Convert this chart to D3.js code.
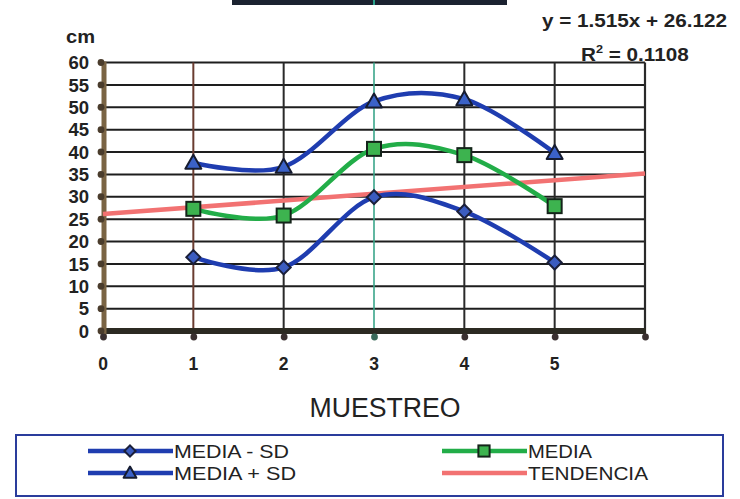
<!DOCTYPE html>
<html>
<head>
<meta charset="utf-8">
<script src="https://cdn.jsdelivr.net/npm/d3@7/dist/d3.min.js"></script>
<style>
  html, body { margin: 0; padding: 0; background: #fff; }
  svg { display: block; font-family: "Liberation Sans", Arial, sans-serif; }
</style>
</head>
<body>
<svg id="chart" width="740" height="499"></svg>
<script>
// Muestreo (sampling rounds) and measured heights in cm
const muestreo = [1, 2, 3, 4, 5];
const mediaMenosSD = [16.5, 14.2, 29.9, 26.7, 15.3];
const media = [27.3, 25.8, 40.7, 39.3, 27.9];
const mediaMasSD = [37.6, 36.7, 51.3, 51.8, 39.8];

// Linear trend fitted on MEDIA
const tendenciaPendiente = 1.515;
const tendenciaIntercepto = 26.122;
const tendenciaR2 = 0.1108;

const xTicks = [0, 1, 2, 3, 4, 5];
const yTicks = [0, 5, 10, 15, 20, 25, 30, 35, 40, 45, 50, 55, 60];
const xDomain = [0, 6];
const yDomain = [0, 60];

const svg = d3.select("#chart");
const x = d3.scaleLinear().domain(xDomain).range([103, 645]);
const y = d3.scaleLinear().domain(yDomain).range([331, 62.5]);

// truncated title block at the top edge
svg.append("rect").attr("x", 232).attr("y", -2).attr("width", 275).attr("height", 7)
  .attr("fill", "#1b2230");
svg.append("rect").attr("x", 373).attr("y", -2).attr("width", 2).attr("height", 7)
  .attr("fill", "#2aa08a");

// horizontal gridlines
svg.append("g").selectAll("line")
  .data(yTicks.filter(d => d > 0))
  .join("line")
  .attr("x1", x(0)).attr("x2", x(6))
  .attr("y1", d => y(d)).attr("y2", d => y(d))
  .attr("stroke", "#1e1e1e").attr("stroke-width", 2);

// vertical gridlines
const vColor = { 1: "#6a3c30", 2: "#2a2a2a", 3: "#3aa58a", 4: "#2a2a2a", 5: "#2a2a2a", 6: "#2a2a2a" };
const vWidth = { 1: 2, 2: 2, 3: 1.6, 4: 2, 5: 2, 6: 2.2 };
svg.append("g").selectAll("line")
  .data([1, 2, 3, 4, 5, 6])
  .join("line")
  .attr("x1", d => x(d)).attr("x2", d => x(d))
  .attr("y1", y(60)).attr("y2", y(0) + 6)
  .attr("stroke", d => vColor[d]).attr("stroke-width", d => vWidth[d]);

// axis lines
svg.append("line")
  .attr("x1", x(0)).attr("x2", x(6) + 1).attr("y1", y(0)).attr("y2", y(0))
  .attr("stroke", "#2c2a22").attr("stroke-width", 6);
svg.append("line")
  .attr("x1", x(0) + 1).attr("x2", x(0) + 1).attr("y1", y(60) - 1).attr("y2", y(0) + 6)
  .attr("stroke", "#7a6444").attr("stroke-width", 5);

// tick dots
svg.append("g").selectAll("circle")
  .data(yTicks)
  .join("circle")
  .attr("cx", x(0) - 2).attr("cy", d => y(d)).attr("r", 3.4)
  .attr("fill", "#4a3c2c");
svg.append("g").selectAll("circle")
  .data([0, 1, 2, 3, 4, 5, 6])
  .join("circle")
  .attr("cx", d => x(d) + 0.5).attr("cy", y(0) + 6).attr("r", 3.4)
  .attr("fill", d => d === 3 ? "#3a6a5a" : "#3a3030");

// y tick labels
svg.append("g").selectAll("text")
  .data(yTicks)
  .join("text")
  .attr("x", 89).attr("y", d => y(d)).attr("dy", "0.36em")
  .attr("text-anchor", "end")
  .attr("font-size", 18.5).attr("font-weight", "bold").attr("fill", "#222")
  .text(d => d);

svg.append("text").attr("x", 66).attr("y", 43)
  .attr("font-size", 19).attr("font-weight", "bold").attr("fill", "#222")
  .attr("textLength", 29).attr("lengthAdjust", "spacingAndGlyphs")
  .text("cm");

// x tick labels
svg.append("g").selectAll("text")
  .data(xTicks)
  .join("text")
  .attr("x", d => x(d)).attr("y", 370)
  .attr("text-anchor", "middle")
  .attr("font-size", 17.5).attr("font-weight", "bold").attr("fill", "#222")
  .text(d => d);

// axis title
svg.append("text").attr("x", 385).attr("y", 417)
  .attr("text-anchor", "middle")
  .attr("font-size", 27).attr("fill", "#222")
  .attr("textLength", 151).attr("lengthAdjust", "spacingAndGlyphs")
  .text("MUESTREO");

// trend line across the full x domain
const trendLine = d3.line().x(d => x(d)).y(d => y(tendenciaPendiente * d + tendenciaIntercepto));
svg.append("path")
  .attr("d", trendLine(xDomain))
  .attr("fill", "none").attr("stroke", "#f27272").attr("stroke-width", 4.5);

// smoothed series
const smooth = d3.line().curve(d3.curveCardinal.tension(0))
  .x(d => x(d[0])).y(d => y(d[1]));
const series = [
  { name: "MEDIA - SD", values: mediaMenosSD, color: "#1f3db0", marker: "diamond" },
  { name: "MEDIA", values: media, color: "#22ad48", marker: "square" },
  { name: "MEDIA + SD", values: mediaMasSD, color: "#1f3db0", marker: "triangle" }
];

series.forEach(s => {
  svg.append("path")
    .attr("d", smooth(muestreo.map((m, i) => [m, s.values[i]])))
    .attr("fill", "none").attr("stroke", s.color).attr("stroke-width", 4.5)
    .attr("stroke-linejoin", "round");
});

function drawMarker(g, kind, cx, cy, k = 1) {
  if (kind === "diamond") {
    const r = 7 * k;
    g.append("path")
      .attr("d", `M${cx},${cy - r}L${cx + r},${cy}L${cx},${cy + r}L${cx - r},${cy}Z`)
      .attr("fill", "#3b5cc0").attr("stroke", "#1a1f3a").attr("stroke-width", 2);
  } else if (kind === "square") {
    const r = 7 * k;
    g.append("rect")
      .attr("x", cx - r).attr("y", cy - r).attr("width", 2 * r).attr("height", 2 * r)
      .attr("fill", "#3db34f").attr("stroke", "#14241a").attr("stroke-width", 2);
  } else {
    const r = 8 * k;
    g.append("path")
      .attr("d", `M${cx},${cy - r}L${cx + r},${cy + r * 0.75}L${cx - r},${cy + r * 0.75}Z`)
      .attr("fill", "#3b62c8").attr("stroke", "#161c30").attr("stroke-width", 2)
      .attr("stroke-linejoin", "round");
  }
}

const markers = svg.append("g");
series.forEach(s => {
  muestreo.forEach((m, i) => drawMarker(markers, s.marker, x(m), y(s.values[i])));
});

// trend equation
const eq = svg.append("text")
  .attr("transform", "translate(542,27) scale(1.15,1)")
  .attr("font-size", 18).attr("font-weight", "bold").attr("fill", "#222");
eq.text(`y = ${tendenciaPendiente}x + ${tendenciaIntercepto}`);

const r2 = svg.append("text")
  .attr("transform", "translate(581,61) scale(1.15,1)")
  .attr("font-size", 18).attr("font-weight", "bold").attr("fill", "#222");
r2.append("tspan").text("R");
r2.append("tspan").attr("dy", -8).attr("font-size", 11).text("2");
r2.append("tspan").attr("dy", 8).text(` = ${tendenciaR2}`);

// legend
svg.append("rect").attr("x", 16).attr("y", 435).attr("width", 707).attr("height", 61)
  .attr("fill", "#fff").attr("stroke", "#2a3c9c").attr("stroke-width", 2);

const legendItems = [
  { name: "MEDIA - SD", color: "#1f3db0", marker: "diamond", lx: 88, ly: 451, tw: 115 },
  { name: "MEDIA + SD", color: "#1f3db0", marker: "triangle", lx: 88, ly: 473, tw: 122 },
  { name: "MEDIA", color: "#22ad48", marker: "square", lx: 442, ly: 451, tw: 64 },
  { name: "TENDENCIA", color: "#f27272", marker: null, lx: 442, ly: 473, tw: 120 }
];
const lg = svg.append("g");
legendItems.forEach(it => {
  lg.append("line")
    .attr("x1", it.lx).attr("x2", it.lx + 85).attr("y1", it.ly).attr("y2", it.ly)
    .attr("stroke", it.color).attr("stroke-width", 4.5);
  if (it.marker) drawMarker(lg, it.marker, it.lx + 42, it.ly, 0.8);
  lg.append("text")
    .attr("x", it.lx + 86).attr("y", it.ly + 7)
    .attr("font-size", 18).attr("fill", "#222")
    .attr("textLength", it.tw).attr("lengthAdjust", "spacingAndGlyphs")
    .text(it.name);
});
</script>
</body>
</html>
